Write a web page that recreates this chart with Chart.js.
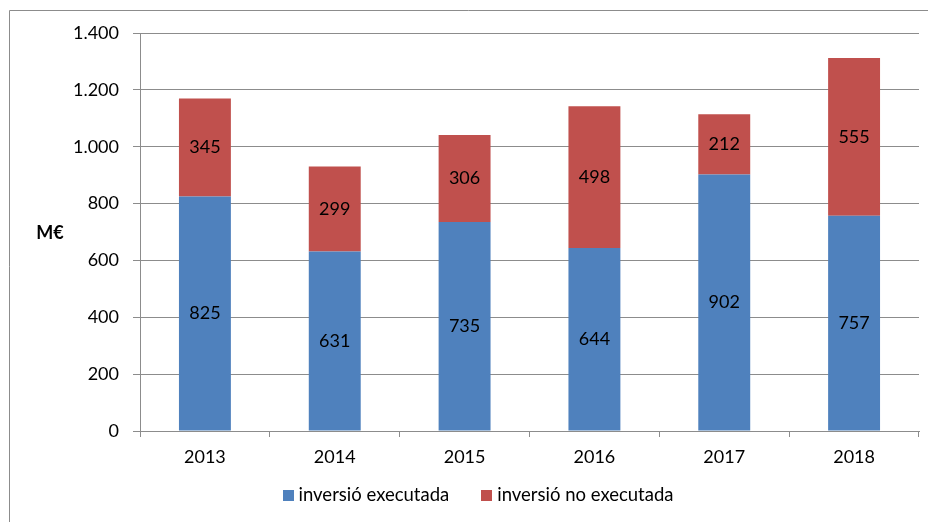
<!DOCTYPE html>
<html>
<head>
<meta charset="utf-8">
<script src="https://cdn.jsdelivr.net/npm/chart.js@4/dist/chart.umd.min.js"></script>
<style>
    html, body { margin: 0; padding: 0; background: #fff; }
    #wrap { width: 928px; height: 522px; position: relative; }
</style>
</head>
<body>
<div id="wrap"><canvas id="investChart"></canvas></div>
<script>
const years = ['2013', '2014', '2015', '2016', '2017', '2018'];
const executed = [825, 631, 735, 644, 902, 757];
const notExecuted = [345, 299, 306, 498, 212, 555];
const seriesNames = ['inversió executada', 'inversió no executada'];
const seriesColors = ['#4F81BD', '#C0504D'];
const yMax = 1400;
const yStep = 200;

const FONT = 'Lato, "Open Sans", sans-serif';

// thousands with a dot, like the original sheet
function fmt(v) {
    return String(v).replace(/\B(?=(\d{3})+(?!\d))/g, '.');
}

// draws the value in the middle of each bar segment
const barLabels = {
    id: 'barLabels',
    afterDatasetsDraw(chart) {
        const ctx = chart.ctx;
        ctx.save();
        ctx.font = '18px ' + FONT;
        ctx.fillStyle = '#000';
        ctx.textAlign = 'center';
        ctx.textBaseline = 'middle';
        chart.data.datasets.forEach((ds, i) => {
            chart.getDatasetMeta(i).data.forEach((bar, j) => {
                const mid = (bar.y + bar.base) / 2;
                ctx.fillText(fmt(ds.data[j]), bar.x, mid);
            });
        });
        ctx.restore();
    }
};

// frame of the chart box, the "M€" label and the legend row (Excel-like spacing)
const frame = {
    id: 'frame',
    afterDraw(chart) {
        const ctx = chart.ctx;
        const area = chart.chartArea;
        ctx.save();
        ctx.strokeStyle = '#8c8c8c';
        ctx.lineWidth = 1;
        ctx.beginPath();
        ctx.moveTo(9.5, chart.height);
        ctx.lineTo(9.5, 10.5);
        ctx.lineTo(chart.width, 10.5);
        ctx.stroke();

        ctx.font = 'bold 18px ' + FONT;
        ctx.fillStyle = '#000';
        ctx.textAlign = 'center';
        ctx.textBaseline = 'middle';
        ctx.fillText('M€', area.left - 90, (area.top + area.bottom) / 2 + 1);

        // legend
        ctx.font = '18.5px ' + FONT;
        ctx.textAlign = 'left';
        const box = 11, gapText = 5, gapItem = 32;
        const widths = chart.data.datasets.map(ds => box + gapText + ctx.measureText(ds.label).width);
        const total = widths.reduce((a, b) => a + b, 0) + gapItem * (widths.length - 1);
        let x = chart.width / 2 + 14 - total / 2;
        const y = chart.height - 27;
        chart.data.datasets.forEach((ds, i) => {
            ctx.fillStyle = ds.backgroundColor;
            ctx.fillRect(Math.round(x), Math.round(y - box / 2), box, box);
            ctx.fillStyle = '#000';
            ctx.fillText(ds.label, x + box + gapText, y);
            x += widths[i] + gapItem;
        });
        ctx.restore();
    }
};

const ctx = document.getElementById('investChart').getContext('2d');
new Chart(ctx, {
    type: 'bar',
    data: {
        labels: years,
        datasets: [
            { label: seriesNames[0], data: executed, backgroundColor: seriesColors[0] },
            { label: seriesNames[1], data: notExecuted, backgroundColor: seriesColors[1] }
        ]
    },
    options: {
        responsive: true,
        maintainAspectRatio: false,
        animation: false,
        devicePixelRatio: 1,
        layout: { padding: { top: 33, right: 9, left: 0, bottom: 53 } },
        datasets: {
            bar: { categoryPercentage: 1, barPercentage: 0.4, borderWidth: 0 }
        },
        scales: {
            x: {
                stacked: true,
                afterFit(scale) { scale.height = 38; },
                grid: {
                    offset: true,
                    drawOnChartArea: false,
                    drawTicks: true,
                    tickLength: 6,
                    color: '#8c8c8c'
                },
                border: { color: '#8c8c8c' },
                ticks: { color: '#000', font: { family: FONT, size: 18 }, padding: 9 }
            },
            y: {
                stacked: true,
                min: 0,
                max: yMax,
                afterFit(scale) { scale.width = 140; },
                grid: { color: '#8c8c8c', tickLength: 7 },
                border: { color: '#8c8c8c' },
                ticks: {
                    stepSize: yStep,
                    color: '#000',
                    padding: 14,
                    font: { family: FONT, size: 18 },
                    callback: (v) => fmt(v)
                }
            }
        },
        plugins: {
            legend: { display: false },
            tooltip: { enabled: false }
        }
    },
    plugins: [barLabels, frame]
});
</script>
</body>
</html>
